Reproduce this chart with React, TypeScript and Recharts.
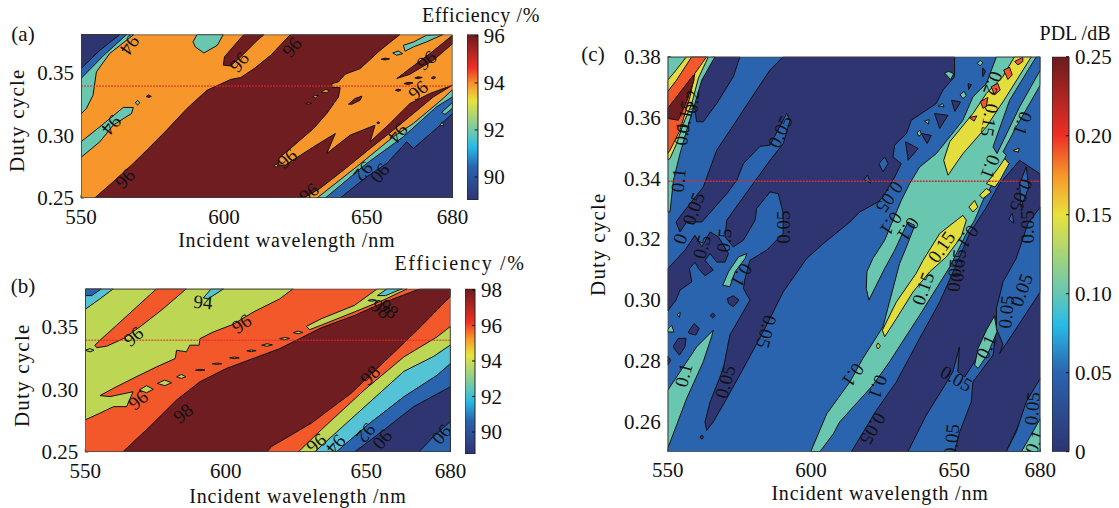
import {
  Bar,
  BarChart,
  Scatter,
  ScatterChart,
  XAxis,
  YAxis,
} from "recharts"

type Pt = [number, number]
type ContourLabel = { x: number; y: number; text: string; angle: number }

const NAVY = "#2E3570"
const BLUE = "#2B64AE"
const CYAN = "#55C3D6"
const TEAL = "#69C7B0"
const LIME = "#BDD654"
const YELLOW = "#E3DE3E"
const ORANGE = "#F7962B"
const VERMILION = "#F2582A"
const MAROON = "#6F1D20"
const FONT = "'Liberation Serif', serif"

const xTicks = [550, 600, 650, 680]
const yTicksShort = [0.25, 0.3, 0.35]
const yTicksLong = [0.26, 0.28, 0.3, 0.32, 0.34, 0.36, 0.38]
const barTicksA = [90, 92, 94, 96]
const barTicksB = [90, 92, 94, 96, 98]
const barTicksC = [0, 0.05, 0.1, 0.15, 0.2, 0.25]
const barRangeA: Pt = [89.02, 96.06]
const barRangeB: Pt = [88.76, 98.07]
const barRangeC: Pt = [0, 0.25]
const refDuty = 0.339
const field: Pt[] = [[550, 0.25], [680, 0.25], [680, 0.38], [550, 0.38]]

// panel (a), efficiency
const aRedMain: Pt[] = [
  [554.8, 0.25], [561.3, 0.263], [568.3, 0.2775], [574.2, 0.2907], [580, 0.304], [587.1, 0.3212],
  [594.1, 0.3357], [598.8, 0.3405], [602.3, 0.3442], [605.9, 0.3458], [610.6, 0.3529], [616.4, 0.3635],
  [623.3, 0.38], [661.6, 0.38], [654.7, 0.3675], [647.7, 0.3529], [642.4, 0.3484], [640.1, 0.3423],
  [637.8, 0.341], [637.8, 0.3378], [640.7, 0.3378], [640.1, 0.3304], [636, 0.3172], [631.4, 0.3053],
  [623.3, 0.2894], [619.2, 0.2815], [619.2, 0.2762], [621.5, 0.2762], [631.4, 0.2907], [639, 0.3013],
  [636, 0.2854], [644.2, 0.3], [652.9, 0.3079], [651.2, 0.2947], [658.1, 0.3093], [665.1, 0.3251],
  [672.1, 0.3331], [680, 0.3397], [673.3, 0.3304], [666.3, 0.3172], [659.3, 0.304], [651.2, 0.2894],
  [641.9, 0.2722], [633.7, 0.2577], [627.9, 0.25],
]
const aRedSpikes: Pt[][] = [
  [[599.8, 0.3556], [600.2, 0.3622], [604.7, 0.3741], [607, 0.38], [614.1, 0.38], [611.7, 0.3754], [605.9, 0.3622], [602.3, 0.355]],
  [[660.5, 0.345], [665.1, 0.3529], [672.1, 0.3648], [680, 0.3794], [680, 0.3727], [673.3, 0.3595], [665.1, 0.3484]],
  [[643.6, 0.3246], [645.9, 0.3291], [648.3, 0.331], [647.7, 0.3278], [644.8, 0.3246]],
  [[655, 0.3603], [656.4, 0.3612], [658, 0.3606], [656.4, 0.3598]],
  [[663, 0.341], [664.5, 0.342], [666.2, 0.3415], [664.5, 0.3402]],
  [[666.8, 0.3455], [668, 0.3464], [669.4, 0.3458], [668, 0.3449]],
  [[672.6, 0.3455], [673.3, 0.3466], [674.2, 0.3458], [673.3, 0.3447]],
  [[660, 0.3357], [661, 0.3366], [662, 0.3358], [661, 0.3349]],
  [[653.5, 0.3098], [654, 0.3106], [654.6, 0.3098], [654, 0.3091]],
]
const aOrangeSpecks: Pt[][] = [
  [[617.5, 0.2755], [618.3, 0.277], [619, 0.2755], [618.3, 0.2745]],
  [[634, 0.3344], [635.5, 0.3362], [637, 0.3357], [636, 0.3336]],
  [[631, 0.3304], [632, 0.3316], [633.2, 0.3312], [632, 0.3296]],
  [[628.6, 0.3251], [629.6, 0.3257], [630.8, 0.3253], [629.6, 0.3246]],
]
const aTealPatches: Pt[][] = [
  [[550, 0.38], [568.5, 0.38], [560, 0.3648], [555.4, 0.3503], [554.2, 0.3317], [551.9, 0.3212], [550, 0.3167]],
  [[550, 0.2947], [556.6, 0.3066], [564.8, 0.322], [568.3, 0.322], [567.7, 0.3172], [561.3, 0.308], [556.6, 0.2947], [550, 0.2823]],
  [[590.6, 0.38], [599.8, 0.38], [597.7, 0.3714], [593, 0.3653], [590, 0.3701], [589.2, 0.3741]],
  [[662.8, 0.3714], [666.3, 0.374], [670.9, 0.3794], [676.7, 0.38], [670.9, 0.3741], [666.3, 0.3701], [663.4, 0.3667]],
  [[659.1, 0.3653], [661, 0.3669], [662.6, 0.3648], [660.5, 0.3635]],
  [[569, 0.3257], [569.8, 0.3277], [570.6, 0.3257], [569.8, 0.324]],
]
const aBlueCorner: Pt[] = [[550, 0.38], [566, 0.38], [558, 0.3635], [550, 0.345]]
const aNavyCorner: Pt[] = [[550, 0.38], [563.6, 0.38], [556.6, 0.3674], [550, 0.3529]]
const aDarkSpeck: Pt[] = [[572.8, 0.3307], [573.7, 0.332], [574.6, 0.3307], [573.7, 0.33]]
const aLowerTeal: Pt[] = [[632.6, 0.25], [646.5, 0.2749], [659.3, 0.2987], [666.3, 0.3093], [676.7, 0.3291], [680, 0.3362], [680, 0.25]]
const aLowerBlue: Pt[] = [[635.5, 0.25], [650, 0.2775], [662.8, 0.2987], [674.4, 0.3225], [680, 0.3304], [680, 0.25]]
const aLowerNavy: Pt[] = [[640.7, 0.25], [650, 0.2669], [657, 0.2775], [664, 0.2947], [666.3, 0.2894], [674.4, 0.3053], [680, 0.3172], [680, 0.25]]
const aLowerTealBits: Pt[][] = [
  [[676.2, 0.318], [680, 0.326], [680, 0.3215], [677.4, 0.3165]],
  [[675.5, 0.3075], [676.4, 0.3105], [677, 0.3075]],
]
const aLabels: ContourLabel[] = [
  { x: 567.1, y: 0.3714, text: "94", angle: 125 },
  { x: 560.7, y: 0.3079, text: "94", angle: 130 },
  { x: 565.4, y: 0.2656, text: "96", angle: -45 },
  { x: 605.3, y: 0.3582, text: "96", angle: -50 },
  { x: 623.8, y: 0.3701, text: "96", angle: -50 },
  { x: 670.9, y: 0.3595, text: "96", angle: -40 },
  { x: 668, y: 0.3357, text: "96", angle: -40 },
  { x: 622.1, y: 0.2815, text: "96", angle: -40 },
  { x: 629.7, y: 0.2542, text: "96", angle: -40 },
  { x: 661, y: 0.3013, text: "94", angle: 130 },
  { x: 648.8, y: 0.2709, text: "92", angle: 130 },
  { x: 654.7, y: 0.2696, text: "90", angle: 130 },
]

// panel (b), efficiency
const bGreenUpper: Pt[] = [
  [550, 0.38], [624, 0.38], [619.2, 0.3719], [609.7, 0.3613], [602.6, 0.3516], [595.5, 0.3455], [590.8, 0.3402],
  [590.5, 0.335], [587.2, 0.335], [586, 0.3297], [582.5, 0.331], [582, 0.3244], [575.4, 0.3178], [567, 0.3086],
  [560, 0.3007], [555.2, 0.2949], [558.8, 0.2941], [567, 0.298], [564.7, 0.2861], [560, 0.2861], [555.2, 0.2809], [550, 0.2756],
]
const bOrangeStripe: Pt[] = [
  [553.4, 0.335], [555.2, 0.3389], [561.1, 0.3508], [568.2, 0.3653], [575.4, 0.38], [586, 0.38], [577.7, 0.364],
  [569.4, 0.3495], [563.5, 0.3402], [557.6, 0.3342], [554, 0.3331],
]
const bCyanCorner: Pt[] = [[550, 0.38], [560, 0.38], [555.2, 0.3719], [550, 0.3637]]
const bBlueCorner: Pt[] = [[550, 0.38], [555.8, 0.38], [552.3, 0.3745], [550, 0.3745]]
const bCyanTop: Pt[] = [[592, 0.3727], [594.9, 0.38], [599.3, 0.38], [593.7, 0.3719]]
const bGreenIslands: Pt[][] = [
  [[550, 0.331], [551.7, 0.3323], [553.1, 0.331], [551.7, 0.3297]],
  [[569.2, 0.2993], [571.8, 0.3028], [574.2, 0.2999], [571.8, 0.2972]],
  [[575.6, 0.3046], [578.3, 0.3073], [580.7, 0.3051], [578.3, 0.3028]],
  [[582.5, 0.3099], [584.2, 0.3117], [585.8, 0.3099], [584.2, 0.3086]],
  [[589.2, 0.3152], [590.8, 0.3158], [592.6, 0.3153], [590.8, 0.3147]],
  [[595.2, 0.3202], [596.9, 0.3208], [598.6, 0.3203], [596.9, 0.3197]],
  [[601.4, 0.3249], [603, 0.3256], [604.8, 0.325], [603, 0.3243]],
  [[607.5, 0.3305], [609.1, 0.3312], [610.8, 0.3307], [609.1, 0.3299]],
  [[612.8, 0.335], [614.7, 0.3362], [616.6, 0.3353], [614.7, 0.3342]],
  [[619.2, 0.3402], [621, 0.3412], [622.8, 0.3404], [621, 0.3394]],
  [[624, 0.345], [625.8, 0.3462], [627.4, 0.3452], [625.8, 0.3441]],
  [[628.7, 0.35], [634, 0.3561], [645.8, 0.3667], [654, 0.38], [664.6, 0.38], [656.4, 0.3712], [645.8, 0.3615], [634, 0.351], [629.9, 0.3474]],
]
const bCyanStripe: Pt[] = [[654, 0.3745], [657.5, 0.38], [662.8, 0.38], [656.9, 0.3745]]
const bCyanDash: Pt[] = [[650.6, 0.3706], [652, 0.3715], [653.6, 0.3708], [652, 0.37]]
const bRedMain: Pt[] = [
  [563.3, 0.25], [573, 0.2703], [582.5, 0.2914], [590.8, 0.3059], [600.2, 0.3165], [609.7, 0.3244], [619.2, 0.3323],
  [634, 0.3489], [645.8, 0.3587], [656.4, 0.3692], [669.3, 0.38], [680, 0.38], [680, 0.3739], [668.1, 0.3469],
  [656.4, 0.3218], [644.6, 0.2967], [630.5, 0.273], [616.4, 0.2545], [614.6, 0.25],
]
const bLowerGreen: Pt[] = [[625.8, 0.25], [634, 0.2677], [649.3, 0.2993], [663.4, 0.3257], [675.2, 0.3416], [680, 0.35], [680, 0.25]]
const bLowerCyan: Pt[] = [[631.6, 0.25], [646.9, 0.2809], [663.4, 0.3142], [674, 0.3261], [680, 0.3353], [680, 0.25]]
const bLowerBlue: Pt[] = [[639.3, 0.25], [650.5, 0.2716], [663.4, 0.294], [675.2, 0.3111], [680, 0.3205], [680, 0.25]]
const bLowerNavy: Pt[] = [[645.8, 0.25], [656.4, 0.2677], [666.9, 0.2861], [680, 0.302], [680, 0.25]]
const bBlueCorner2: Pt[] = [[668.7, 0.25], [674, 0.2624], [680, 0.2743], [680, 0.25]]
const bLabels: ContourLabel[] = [
  { x: 591.9, y: 0.3693, text: "94", angle: 5 },
  { x: 567.1, y: 0.3421, text: "96", angle: -40 },
  { x: 605.6, y: 0.3521, text: "96", angle: -35 },
  { x: 568.8, y: 0.2914, text: "96", angle: -40 },
  { x: 584.8, y: 0.2809, text: "98", angle: -40 },
  { x: 655.2, y: 0.364, text: "98", angle: 40 },
  { x: 658.1, y: 0.364, text: "98", angle: 40 },
  { x: 651.4, y: 0.3112, text: "98", angle: -45 },
  { x: 632.2, y: 0.2571, text: "96", angle: -40 },
  { x: 639.3, y: 0.2558, text: "94", angle: 130 },
  { x: 649.9, y: 0.2649, text: "92", angle: 130 },
  { x: 655.8, y: 0.2598, text: "90", angle: 130 },
  { x: 676.9, y: 0.2637, text: "90", angle: 130 },
]

// panel (c), PDL
const cNavyMain: Pt[] = [
  [590.3, 0.38], [585.7, 0.3756], [581, 0.369], [574.1, 0.3591], [567.1, 0.3492], [562.4, 0.3371], [556, 0.3295],
  [552.9, 0.3256], [554.3, 0.3223], [556.6, 0.3256], [561.9, 0.3256], [570.6, 0.3349], [574.1, 0.3393], [576.4, 0.3448],
  [582.2, 0.3505], [585.7, 0.3509], [591.5, 0.3613], [592.7, 0.3591], [590.3, 0.3514], [585.7, 0.3459], [576.4, 0.3338],
  [570.6, 0.3262], [570, 0.3207], [572.9, 0.3174], [576.4, 0.3196], [580.5, 0.3262], [581, 0.33], [585.7, 0.3355],
  [588.6, 0.3349], [590.3, 0.3284], [590.3, 0.3218], [584.5, 0.3163], [578.7, 0.313], [577, 0.307], [576.4, 0.3037],
  [578.7, 0.2999], [571.7, 0.2884], [569.4, 0.2774], [564.8, 0.2664], [563, 0.2598], [563.6, 0.257], [565.9, 0.2598],
  [570.6, 0.2675], [576.4, 0.2774], [584.5, 0.2916], [590.3, 0.3026], [598.5, 0.3136], [604.3, 0.3185], [613.6, 0.3256],
  [617, 0.3289], [623.4, 0.3322], [625.1, 0.3338], [629.2, 0.3404], [631.5, 0.3448], [628.6, 0.347], [629.2, 0.3509],
  [633.3, 0.3547], [635, 0.3591], [640.2, 0.3624], [643.7, 0.3646], [646, 0.369], [650.1, 0.3734], [650.1, 0.38],
]
const cNavyWedge: Pt[] = [
  [575.2, 0.38], [572.9, 0.3734], [567.1, 0.3646], [562.4, 0.3586], [560.1, 0.3586], [559.2, 0.3646], [561.3, 0.3712], [565.3, 0.38],
]
const cNavyLeft: Pt[] = [
  [550, 0.3102], [556, 0.3163], [559.5, 0.3212], [561.9, 0.3174], [564.8, 0.3223], [567.7, 0.3207], [571.2, 0.3152],
  [570, 0.3124], [567.1, 0.3124], [564.8, 0.3152], [563, 0.313], [565.9, 0.3098], [563, 0.3079], [560.7, 0.3103],
  [559.5, 0.3124], [557.6, 0.3102], [558.4, 0.3059], [554.3, 0.3032], [552.9, 0.2999], [550, 0.2963],
]
const cNavyBlobs: Pt[][] = [
  [[570.8, 0.3004], [572.9, 0.3013], [574.9, 0.2999], [572.9, 0.2977], [571.2, 0.2988]],
  [[564.8, 0.2948], [565.7, 0.2956], [566.6, 0.2948], [565.7, 0.294]],
  [[557.2, 0.2894], [559.2, 0.2922], [561, 0.2906], [559.8, 0.2884], [557.5, 0.2889]],
  [[552, 0.2848], [553.7, 0.2873], [556.4, 0.2873], [556, 0.2845], [554.1, 0.2818], [552.2, 0.284]],
  [[550, 0.2815], [551, 0.2801], [550, 0.2785]],
  [[561.3, 0.2548], [561.9, 0.2555], [562.5, 0.2548], [561.9, 0.2541]],
  [[633, 0.352], [637.4, 0.3498], [633.9, 0.3459]],
  [[638.5, 0.3547], [642, 0.3541], [640.5, 0.3514]],
  [[643.1, 0.3613], [647.8, 0.3607], [644.9, 0.3564]],
  [[649, 0.3657], [652.2, 0.3651], [650.2, 0.362]],
  [[659.9, 0.3763], [660.9, 0.3752], [659.9, 0.3734]],
  [[654.8, 0.3712], [656, 0.3708], [655, 0.3692]],
]
const cTealSpike: Pt[] = [[577.6, 0.3152], [577, 0.3136], [573.5, 0.3092], [571.7, 0.3043], [569.2, 0.3048], [571.2, 0.3092], [574.7, 0.3141]]
const cTealLower: Pt[] = [[550, 0.2702], [560.1, 0.2845], [565.9, 0.29], [565.3, 0.2878], [562.4, 0.2796], [556.6, 0.2675], [550, 0.251]]
const cTealBits: Pt[][] = [
  [[550, 0.2903], [551.4, 0.2916], [552.2, 0.2894], [550, 0.2894]],
  [[553.3, 0.2952], [554.4, 0.2958], [554.1, 0.2942]],
  [[646.6, 0.3746], [648, 0.3752], [649.8, 0.3744], [648.7, 0.3725]],
  [[652, 0.3675], [653.4, 0.3686], [654.2, 0.3672], [653, 0.3662]],
  [[644.4, 0.3638], [645.9, 0.3646], [646.4, 0.3635]],
  [[639.6, 0.3588], [641.2, 0.3593], [641, 0.3578]],
  [[637, 0.355], [638, 0.3558], [638.5, 0.3545], [637.6, 0.3538]],
  [[658, 0.3778], [659, 0.3788], [660, 0.378], [659, 0.377]],
]
const cLeftTeal: Pt[] = [
  [550, 0.38], [566.5, 0.38], [561.9, 0.3723], [559.5, 0.3646], [556.6, 0.3558], [554.3, 0.3481], [552, 0.3393], [550.8, 0.3289], [550, 0.3289],
]
const cLeftYellow: Pt[] = [
  [556.6, 0.38], [564.2, 0.38], [560.7, 0.3729], [558.4, 0.3646], [555.5, 0.358], [553.1, 0.3514], [550.8, 0.3465], [550, 0.346], [550, 0.3723], [552, 0.3745],
]
const cLeftOrange: Pt[] = [
  [558.4, 0.38], [563.6, 0.38], [559.5, 0.3745], [557.8, 0.3668], [554.3, 0.3558], [550.8, 0.3492], [550, 0.3481], [550, 0.3685], [553.1, 0.3723],
]
const cLeftMaroon: Pt[] = [
  [559, 0.374], [550, 0.363], [550, 0.3597], [553.7, 0.3591], [556.6, 0.3652], [559.2, 0.3723],
]
const cNavyRight: Pt[] = [
  [614.1, 0.25], [622.8, 0.2636], [629.8, 0.273], [637.9, 0.2873], [644.9, 0.2993], [650.1, 0.3103], [655.3, 0.3218], [661.2, 0.3305],
  [665.8, 0.3382], [672.8, 0.3459], [679.8, 0.3415], [680, 0.336], [680, 0.2741], [668.1, 0.25],
]
const cBlueCentre: Pt[] = [
  [633.8, 0.25], [640.2, 0.262], [646, 0.2708], [649.5, 0.2763], [651.8, 0.2845], [651.2, 0.2763], [653.6, 0.2746], [657.1, 0.2796],
  [661.2, 0.2873], [664.1, 0.2947], [664.9, 0.2916], [663.5, 0.2818], [656.5, 0.273], [655.9, 0.2664], [651.9, 0.2565], [650.1, 0.25],
]
const cBlueRight: Pt[] = [
  [680, 0.3305], [675.7, 0.3251], [671.6, 0.3136], [667, 0.3059], [664.7, 0.2971], [664.7, 0.2905], [667, 0.2853], [665.8, 0.2823], [680, 0.3026],
]
const cBlueCorner: Pt[] = [[668.1, 0.25], [671.6, 0.2565], [675.1, 0.2664], [680, 0.2741], [680, 0.25]]
const cTealCorner: Pt[] = [[673.4, 0.25], [677.4, 0.2565], [680, 0.2609], [680, 0.25]]
const cTealIsland: Pt[] = [[664, 0.2947], [664.9, 0.2895], [661.5, 0.2818], [658.3, 0.2774], [657.1, 0.2785], [658.3, 0.284], [661.2, 0.29]]
const cBlueIslands: Pt[][] = [
  [[672.8, 0.3382], [675.1, 0.3437], [676, 0.3371], [673.3, 0.3305]],
  [[623.7, 0.3448], [625.7, 0.347], [626.9, 0.3448], [625.1, 0.3421]],
  [[618.5, 0.3395], [619.7, 0.341], [620.8, 0.3385]],
  [[669, 0.3265], [670.2, 0.3285], [670.8, 0.3252]],
]
const cMainTeal: Pt[] = [
  [599.9, 0.25], [605.5, 0.2625], [613.6, 0.273], [618.1, 0.2807], [625.1, 0.2911], [630.9, 0.3119], [633.3, 0.3174], [636.2, 0.3245],
  [633.8, 0.3256], [629.2, 0.3163], [625.7, 0.3103], [622.2, 0.3037], [620.2, 0.2999], [619.3, 0.3037], [619.5, 0.3092], [621.6, 0.3136],
  [625.7, 0.3196], [628.6, 0.3262], [631.5, 0.3327], [634.4, 0.3382], [637.9, 0.3437], [643.7, 0.3481], [648.4, 0.3536], [653, 0.3591],
  [656.5, 0.3668], [661.2, 0.3712], [664.7, 0.38], [680, 0.38], [680, 0.3707], [671.6, 0.3569], [667, 0.3487], [668.1, 0.3476],
  [664.7, 0.3404], [660, 0.3327], [657.1, 0.3262], [654.2, 0.3218], [648.4, 0.3108], [637.9, 0.2949], [627.4, 0.2796], [621.6, 0.2719],
  [610, 0.2598], [607.8, 0.2559], [603.1, 0.25],
]
const cBlueWedge: Pt[] = [
  [678.6, 0.38], [669.3, 0.3657], [663.5, 0.3503], [664.9, 0.3481], [672.8, 0.3635], [680, 0.3756], [680, 0.38],
]
const cYellowPatches: Pt[][] = [
  [[671, 0.38], [676.9, 0.38], [668.1, 0.3668], [661.2, 0.3569], [653, 0.3481], [647.8, 0.341], [646.3, 0.3459], [648.4, 0.352], [656.5, 0.3613], [661.2, 0.3679], [666.9, 0.3734]],
  [[625.7, 0.2878], [624.9, 0.29], [629.8, 0.2993], [636.7, 0.3087], [639.1, 0.313], [644.9, 0.3218], [653, 0.3278], [654.2, 0.3262], [652.4, 0.3207], [647.2, 0.3141], [641.4, 0.3092], [635.6, 0.3026], [629.8, 0.2938]],
  [[655.1, 0.3305], [657.1, 0.3327], [658.2, 0.3305], [656.5, 0.3289]],
  [[658.8, 0.3344], [661.2, 0.3366], [662.9, 0.3355], [660, 0.3333]],
  [[661.2, 0.3382], [665.2, 0.3432], [667.6, 0.3465], [669.1, 0.3448], [665.9, 0.3393], [664.2, 0.3371]],
  [[670.5, 0.3491], [672.6, 0.3499], [672.4, 0.3486]],
  [[622.8, 0.2848], [623.4, 0.2858], [624.2, 0.2848], [623.4, 0.2838]],
]
const cRedSpots: Pt[][] = [
  [[671, 0.3784], [673.9, 0.3798], [673.9, 0.3784], [672.2, 0.3773]],
  [[667.2, 0.3756], [669.3, 0.3765], [670.2, 0.374], [668.7, 0.3725]],
  [[662.9, 0.3701], [665.2, 0.3712], [666, 0.369], [664, 0.3674]],
  [[659.1, 0.3652], [661.7, 0.3666], [661.2, 0.3637], [660, 0.363]],
  [[655.1, 0.36], [657.9, 0.3605], [656.9, 0.3588]],
]
const cLabels: ContourLabel[] = [
  { x: 553.7, y: 0.3393, text: "0.1", angle: -85 },
  { x: 554.9, y: 0.3547, text: "0.1", angle: -85 },
  { x: 556, y: 0.3602, text: "0.15", angle: -80 },
  { x: 558.4, y: 0.3652, text: "0.2", angle: -85 },
  { x: 589.2, y: 0.3553, text: "0.05", angle: -65 },
  { x: 559, y: 0.33, text: "0.05", angle: -70 },
  { x: 554.3, y: 0.3201, text: "0", angle: -70 },
  { x: 561.9, y: 0.3174, text: "0.5", angle: -75 },
  { x: 569.7, y: 0.3196, text: "0.5", angle: -85 },
  { x: 590.3, y: 0.3239, text: "0.05", angle: -90 },
  { x: 575.8, y: 0.3081, text: "0.1", angle: 120 },
  { x: 555.5, y: 0.2752, text: "0.1", angle: -75 },
  { x: 570, y: 0.273, text: "0.05", angle: -75 },
  { x: 584.5, y: 0.2895, text: "0.05", angle: 105 },
  { x: 627.4, y: 0.3338, text: "0.05", angle: 125 },
  { x: 628, y: 0.325, text: "0.1", angle: 125 },
  { x: 633.9, y: 0.3232, text: "0.1", angle: 125 },
  { x: 645.5, y: 0.3174, text: "0.15", angle: -55 },
  { x: 654.8, y: 0.3207, text: "0.1", angle: 125 },
  { x: 651.3, y: 0.3113, text: "0.05", angle: -85 },
  { x: 662.6, y: 0.3437, text: "0.1", angle: 110 },
  { x: 662.3, y: 0.3591, text: "0.15", angle: 100 },
  { x: 673.9, y: 0.358, text: "0.1", angle: 110 },
  { x: 663.5, y: 0.3712, text: "0.2", angle: 110 },
  { x: 673.4, y: 0.3344, text: "0.05", angle: 110 },
  { x: 675.7, y: 0.324, text: "0.05", angle: -90 },
  { x: 639.1, y: 0.3037, text: "0.15", angle: -70 },
  { x: 650.1, y: 0.3081, text: "0.05", angle: -85 },
  { x: 614.7, y: 0.2752, text: "0.1", angle: 125 },
  { x: 623.4, y: 0.2713, text: "0.1", angle: 110 },
  { x: 621.6, y: 0.2576, text: "0.05", angle: 120 },
  { x: 650.7, y: 0.2741, text: "0.05", angle: 30 },
  { x: 649, y: 0.2537, text: "0.05", angle: -85 },
  { x: 661.2, y: 0.2845, text: "0.1", angle: -65 },
  { x: 668.1, y: 0.296, text: "0.05", angle: -85 },
  { x: 673.4, y: 0.3032, text: "0.05", angle: -70 },
  { x: 677.2, y: 0.2642, text: "0.05", angle: -85 },
  { x: 678, y: 0.2532, text: "0.1", angle: -70 },
]

const toRows = (pts: Pt[]) => [...pts, pts[0]].map(([x, y]) => ({ x, y }))

function region(pts: Pt[], fill: string, key: string, stroke = "#111") {
  return (
    <Scatter
      key={key}
      data={toRows(pts)}
      line={{ fill, stroke, strokeWidth: 1 }}
      shape={() => <g />}
      isAnimationActive={false}
    />
  )
}

function regions(list: Pt[][], fill: string, key: string) {
  return list.map((pts, i) => region(pts, fill, `${key}-${i}`))
}

function refLine(width = 1, color = "#E8262A") {
  return (
    <Scatter
      key="ref"
      data={[{ x: 550, y: refDuty }, { x: 680, y: refDuty }]}
      line={{ stroke: color, strokeWidth: width, strokeDasharray: "2 1", fill: "none" }}
      shape={() => <g />}
      isAnimationActive={false}
    />
  )
}

function frame() {
  return (
    <Scatter
      key="frame"
      data={toRows(field)}
      line={{ stroke: "#444", strokeWidth: 1.4, fill: "none" }}
      shape={() => <g />}
      isAnimationActive={false}
    />
  )
}

function contourText(labels: ContourLabel[], size: number) {
  return (
    <Scatter
      key="labels"
      data={labels}
      isAnimationActive={false}
      shape={(p: any) => (
        <text
          x={p.cx}
          y={p.cy}
          fontSize={size}
          fontFamily={FONT}
          fill="#111"
          textAnchor="middle"
          dominantBaseline="central"
          transform={`rotate(${p.payload.angle} ${p.cx} ${p.cy})`}
        >
          {p.payload.text}
        </text>
      )}
    />
  )
}

const tickFont = { fontSize: 21, fontFamily: FONT, fill: "#111" }

interface PanelProps {
  left: number
  top: number
  width: number
  height: number
  margin: { top: number; right: number; bottom: number; left: number }
  yWidth: number
  xHeight: number
  yTicks: number[]
  xTickGap: number
  labelDx: number
  labelDy: number
  labelOffset: number
  yLabelOffset: number
  children: React.ReactNode
}

function Panel(props: PanelProps) {
  return (
    <div style={{ position: "absolute", left: props.left, top: props.top }}>
      <ScatterChart width={props.width} height={props.height} margin={props.margin}>
        <XAxis
          type="number"
          dataKey="x"
          domain={[550, 680]}
          ticks={xTicks}
          interval={0}
          allowDataOverflow
          height={props.xHeight}
          axisLine={false}
          tickSize={-3}
          tickMargin={props.xTickGap}
          tick={tickFont}
          stroke="#333"
          label={{
            value: "Incident wavelength /nm",
            position: "insideBottom",
            offset: props.labelOffset,
            dx: props.labelDx,
            style: { fontSize: 20, fontFamily: FONT, fill: "#111", letterSpacing: 0.8 },
          }}
        />
        <YAxis
          type="number"
          dataKey="y"
          domain={[0.25, 0.38]}
          ticks={props.yTicks}
          interval={0}
          allowDataOverflow
          width={props.yWidth}
          axisLine={false}
          tickSize={-3}
          tickMargin={10}
          tick={tickFont}
          stroke="#333"
          tickFormatter={(v: number) => v.toFixed(2)}
          label={{
            value: "Duty cycle",
            angle: -90,
            position: "insideLeft",
            offset: props.yLabelOffset,
            dy: props.labelDy,
            style: { fontSize: 21, fontFamily: FONT, fill: "#111", textAnchor: "middle", letterSpacing: 1.2 },
          }}
        />
        {props.children}
      </ScatterChart>
    </div>
  )
}

function ColorBar(props: {
  id: string
  left: number
  top: number
  barWidth: number
  barTop: number
  barBottom: number
  range: Pt
  ticks: number[]
  format?: (v: number) => string
}) {
  const height = props.barBottom + 12
  return (
    <div style={{ position: "absolute", left: props.left, top: props.top }}>
      <BarChart
        width={props.barWidth + 60}
        height={height}
        data={[{ name: "bar", value: props.range }]}
        margin={{ top: props.barTop, right: 0, bottom: 12, left: 0 }}
        barCategoryGap={0}
      >
        <defs>
          <linearGradient id={props.id} x1="0" y1="1" x2="0" y2="0">
            <stop offset="0" stopColor="#2D3472" />
            <stop offset="0.2" stopColor="#2B63AF" />
            <stop offset="0.32" stopColor="#27BBE6" />
            <stop offset="0.41" stopColor="#6CC8AE" />
            <stop offset="0.6" stopColor="#E8E23C" />
            <stop offset="0.7" stopColor="#F7962B" />
            <stop offset="0.8" stopColor="#EE2F26" />
            <stop offset="1" stopColor="#6A1B1E" />
          </linearGradient>
        </defs>
        <XAxis dataKey="name" hide />
        <YAxis
          orientation="right"
          type="number"
          domain={props.range}
          ticks={props.ticks}
          interval={0}
          allowDataOverflow
          width={60}
          axisLine={false}
          tickSize={-3}
          tickMargin={9}
          tick={{ ...tickFont, textAnchor: "start" }}
          stroke="#111"
          tickFormatter={props.format}
        />
        <Bar dataKey="value" fill={`url(#${props.id})`} stroke="#222" isAnimationActive={false} />
      </BarChart>
    </div>
  )
}

function Caption(props: { x: number; y: number; text: string; size?: number; spacing?: number }) {
  return (
    <div
      style={{
        position: "absolute",
        left: props.x,
        top: props.y,
        transform: "translate(-50%, -50%)",
        fontFamily: FONT,
        fontSize: props.size ?? 21,
        letterSpacing: props.spacing ?? 0,
        whiteSpace: "nowrap",
        color: "#111",
      }}
    >
      {props.text}
    </div>
  )
}

export default function App() {
  return (
    <div style={{ position: "absolute", left: 0, top: 0, width: 1119, height: 508, background: "#fff", overflow: "hidden" }}>
      <Panel
        left={0}
        top={0}
        width={490}
        height={258}
        margin={{ top: 34.5, right: 37.5, bottom: 10, left: 0 }}
        yWidth={81}
        xHeight={50}
        yTicks={yTicksShort}
        xTickGap={14}
        labelDx={20}
        labelDy={4}
        labelOffset={1}
        yLabelOffset={17}
      >
        {region(field, ORANGE, "bg", "none")}
        {region(aRedMain, MAROON, "red")}
        {regions(aRedSpikes, MAROON, "spike")}
        {regions(aOrangeSpecks, ORANGE, "ospeck")}
        {regions(aTealPatches, TEAL, "teal")}
        {region(aBlueCorner, BLUE, "bc")}
        {region(aNavyCorner, NAVY, "nc")}
        {region(aDarkSpeck, MAROON, "dspeck")}
        {region(aLowerTeal, TEAL, "lt")}
        {region(aLowerBlue, BLUE, "lb")}
        {region(aLowerNavy, NAVY, "ln")}
        {regions(aLowerTealBits, TEAL, "ltb")}
        {refLine()}
        {contourText(aLabels, 19)}
        {frame()}
      </Panel>

      <Panel
        left={0}
        top={250}
        width={490}
        height={258}
        margin={{ top: 38.7, right: 39.5, bottom: 2, left: 0 }}
        yWidth={85.3}
        xHeight={54}
        yTicks={yTicksShort}
        xTickGap={14}
        labelDx={30}
        labelDy={5}
        labelOffset={3}
        yLabelOffset={22}
      >
        {region(field, VERMILION, "bg", "none")}
        {region(bGreenUpper, LIME, "green")}
        {region(bOrangeStripe, VERMILION, "stripe")}
        {region(bCyanCorner, CYAN, "cc")}
        {region(bBlueCorner, BLUE, "bc")}
        {region(bCyanTop, CYAN, "ct")}
        {region(bRedMain, MAROON, "red")}
        {regions(bGreenIslands, LIME, "gi")}
        {region(bCyanStripe, CYAN, "cs")}
        {region(bCyanDash, CYAN, "cd")}
        {region(bLowerGreen, LIME, "lg")}
        {region(bLowerCyan, CYAN, "lc")}
        {region(bLowerBlue, BLUE, "lb")}
        {region(bLowerNavy, NAVY, "ln")}
        {region(bBlueCorner2, BLUE, "bc2")}
        {refLine()}
        {contourText(bLabels, 19)}
        {frame()}
      </Panel>

      <Panel
        left={570}
        top={0}
        width={510}
        height={508}
        margin={{ top: 56.7, right: 39.7, bottom: 2.3, left: 0 }}
        yWidth={97.7}
        xHeight={54}
        yTicks={yTicksLong}
        xTickGap={13}
        labelDx={26}
        labelDy={-10}
        labelOffset={6}
        yLabelOffset={28}
      >
        {region(field, BLUE, "bg", "none")}
        {region(cNavyMain, NAVY, "nm")}
        {region(cNavyWedge, NAVY, "nw")}
        {region(cNavyLeft, NAVY, "nl")}
        {region(cNavyRight, NAVY, "nr")}
        {regions(cNavyBlobs, NAVY, "blob")}
        {region(cBlueCentre, BLUE, "bce")}
        {region(cBlueRight, BLUE, "br")}
        {region(cBlueCorner, BLUE, "bco")}
        {regions(cBlueIslands, BLUE, "bi")}
        {region(cTealCorner, TEAL, "tco")}
        {region(cTealIsland, TEAL, "ti")}
        {region(cTealSpike, TEAL, "tsp")}
        {region(cTealLower, TEAL, "tl")}
        {regions(cTealBits, TEAL, "tb")}
        {region(cLeftTeal, TEAL, "lteal")}
        {region(cLeftYellow, YELLOW, "ly")}
        {region(cLeftOrange, VERMILION, "lo")}
        {region(cLeftMaroon, MAROON, "lm")}
        {region(cMainTeal, TEAL, "mt")}
        {region(cBlueWedge, BLUE, "bw")}
        {regions(cYellowPatches, YELLOW, "yp")}
        {regions(cRedSpots, VERMILION, "rs")}
        {refLine(1.4, "#C8303A")}
        {contourText(cLabels, 19)}
        {frame()}
      </Panel>

      <ColorBar id="barA" left={467.3} top={0} barWidth={10.7} barTop={34.5} barBottom={200} range={barRangeA} ticks={barTicksA} />
      <ColorBar id="barB" left={465} top={250} barWidth={10} barTop={38.7} barBottom={204} range={barRangeB} ticks={barTicksB} />
      <ColorBar
        id="barC"
        left={1051.7}
        top={0}
        barWidth={17}
        barTop={56.7}
        barBottom={451.7}
        range={barRangeC}
        ticks={barTicksC}
        format={(v) => (v === 0 ? "0" : v.toFixed(2))}
      />

      <Caption x={23} y={34} text="(a)" />
      <Caption x={23} y={286} text="(b)" />
      <Caption x={593} y={54} text="(c)" />
      <Caption x={481} y={15} text="Efficiency /%" size={20} spacing={0.6} />
      <Caption x={460} y={263} text="Efficiency /%" size={20} spacing={1.6} />
      <Caption x={1075} y={33} text="PDL /dB" size={20} />
    </div>
  )
}
